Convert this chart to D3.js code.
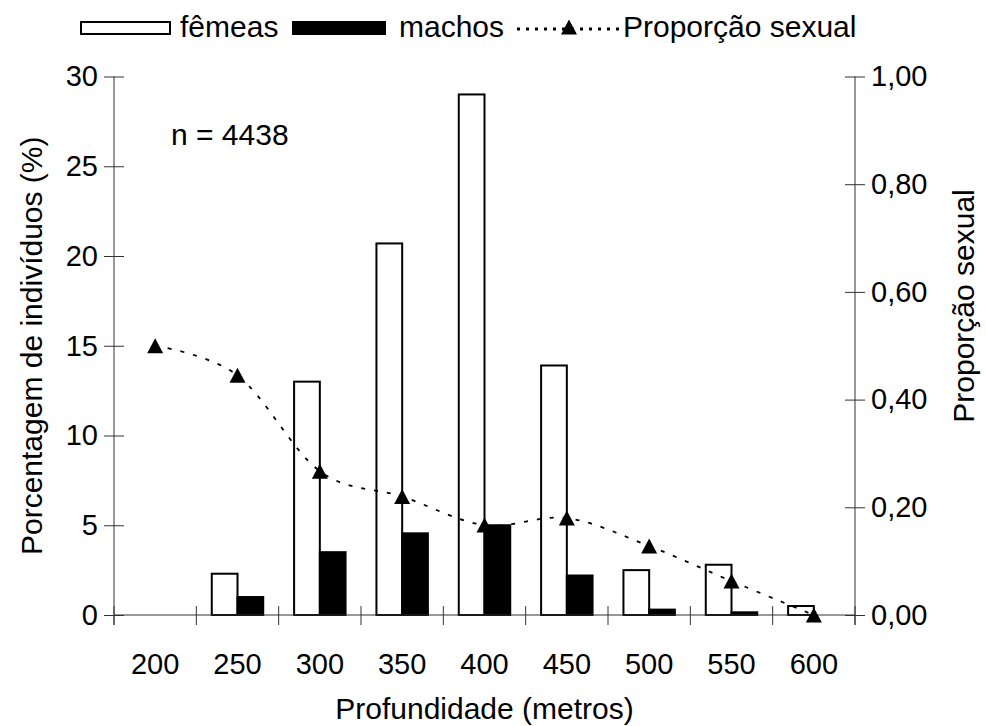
<!DOCTYPE html>
<html>
<head>
<meta charset="utf-8">
<script src="https://cdn.jsdelivr.net/npm/d3@7"></script>
<style>
  html, body { margin: 0; padding: 0; background: #fff; }
  svg { display: block; font-family: "Liberation Sans", Arial, sans-serif; }
</style>
</head>
<body>
<svg id="chart" width="986" height="726"></svg>
<script>
// Depth classes (m)
const depths = ["200", "250", "300", "350", "400", "450", "500", "550", "600"];
// Percentage of individuals per depth class
const femeas = [0, 2.3, 13.0, 20.7, 29.0, 13.9, 2.5, 2.8, 0.5];
const machos = [0, 1.0, 3.5, 4.55, 5.0, 2.2, 0.3, 0.15, 0];
// Sex ratio per depth class
const proporcao = [0.50, 0.445, 0.267, 0.22, 0.167, 0.18, 0.128, 0.063, 0.0];

const leftTicks = [0, 5, 10, 15, 20, 25, 30];
const rightTicks = [0, 0.2, 0.4, 0.6, 0.8, 1.0];
const seriesNames = ["fêmeas", "machos"];

const svg = d3.select("#chart");
const FS = 30;      // text size for titles, legend, note
const FS_TICK = 29; // text size for tick labels
const plot = { left: 114, right: 855, top: 76.5, bottom: 615 };

const x = d3.scaleBand().domain(depths).range([plot.left, plot.right]).padding(0);
const xSub = d3.scaleBand().domain(seriesNames).range([0, x.bandwidth()])
  .paddingInner(0).paddingOuter(0.6);
const y = d3.scaleLinear().domain([0, 30]).range([plot.bottom, plot.top]);
const y2 = d3.scaleLinear().domain([0, 1]).range([plot.bottom, plot.top]);

const axisColor = "#333";

// Bars
const rows = depths.map((d, i) => ({ depth: d, "fêmeas": femeas[i], "machos": machos[i] }));
const groups = svg.append("g").selectAll("g").data(rows).join("g")
  .attr("transform", d => `translate(${x(d.depth)},0)`);
groups.selectAll("rect")
  .data(d => seriesNames.map(k => ({ key: k, value: d[k] })).filter(v => v.value > 0))
  .join("rect")
  .attr("x", d => xSub(d.key))
  .attr("y", d => y(d.value))
  .attr("width", xSub.bandwidth())
  .attr("height", d => y(0) - y(d.value))
  .attr("fill", d => d.key === "fêmeas" ? "#fff" : "#000")
  .attr("stroke", "#000")
  .attr("stroke-width", 2);

// Left axis
const gL = svg.append("g").attr("transform", `translate(${plot.left},0)`)
  .call(d3.axisLeft(y).tickValues(leftTicks).tickSize(10).tickFormat(d3.format("d")));
gL.selectAll(".tick line").attr("x1", -10).attr("x2", 10);
gL.selectAll("text").attr("x", -16).style("font-size", FS_TICK + "px").attr("fill", "#000").attr("font-family", null);
gL.select(".domain").attr("d", `M0,${plot.top}V${plot.bottom + 10}`);
gL.selectAll("path, line").attr("stroke", axisColor);

// Right axis
const gR = svg.append("g").attr("transform", `translate(${plot.right},0)`)
  .call(d3.axisRight(y2).tickValues(rightTicks).tickSize(10)
    .tickFormat(d => d.toFixed(2).replace(".", ",")));
gR.selectAll(".tick line").attr("x1", -10).attr("x2", 10);
gR.selectAll("text").attr("x", 16).style("font-size", FS_TICK + "px").attr("fill", "#000").attr("font-family", null);
gR.select(".domain").attr("d", `M0,${plot.top}V${plot.bottom + 10}`);
gR.selectAll("path, line").attr("stroke", axisColor);

// Bottom axis: labels at class centres, ticks at class boundaries
const gB = svg.append("g").attr("transform", `translate(0,${plot.bottom})`)
  .call(d3.axisBottom(x).tickSize(0));
gB.select(".domain").attr("d", `M${plot.left},0H${plot.right}`).attr("stroke", axisColor);
gB.selectAll("text").attr("y", 59).attr("dy", null)
  .style("font-size", FS_TICK + "px").attr("fill", "#000").attr("font-family", null);
const bounds = depths.map(d => x(d)).concat([plot.right]);
gB.selectAll(".bound").data(bounds).join("line").attr("class", "bound")
  .attr("x1", d => d).attr("x2", d => d).attr("y1", -9).attr("y2", 10)
  .attr("stroke", axisColor);

// Sex-ratio line (smoothed, dotted) with triangle markers
const pts = depths.map((d, i) => ({ depth: d, v: proporcao[i] }));
const cx = d => x(d.depth) + x.bandwidth() / 2;
const line = d3.line().x(cx).y(d => y2(d.v)).curve(d3.curveCardinal.tension(0));
svg.append("path").datum(pts).attr("d", line)
  .attr("fill", "none").attr("stroke", "#000").attr("stroke-width", 1.8)
  .attr("stroke-dasharray", "4,9");
const tri = "M0,-7.5L8,7.5L-8,7.5Z";
svg.append("g").selectAll("path").data(pts).join("path")
  .attr("d", tri)
  .attr("transform", d => `translate(${cx(d)},${y2(d.v)})`)
  .attr("fill", "#000");

// Annotation
svg.append("text").attr("x", 171).attr("y", 145).style("font-size", FS + "px").text("n = 4438");

// Axis titles
svg.append("text").attr("x", (plot.left + plot.right) / 2).attr("y", 719)
  .attr("text-anchor", "middle").style("font-size", FS + "px").text("Profundidade (metros)");
svg.append("text").attr("transform", `translate(42,${(plot.top + plot.bottom) / 2}) rotate(-90)`)
  .attr("text-anchor", "middle").style("font-size", FS + "px").text("Porcentagem de indivíduos (%)");
svg.append("text").attr("transform", `translate(974,306) rotate(-90)`)
  .attr("text-anchor", "middle").style("font-size", FS + "px").text("Proporção sexual");

// Legend
const lg = svg.append("g");
lg.append("rect").attr("x", 81).attr("y", 22).attr("width", 89).attr("height", 12)
  .attr("fill", "#fff").attr("stroke", "#000").attr("stroke-width", 2);
lg.append("text").attr("x", 180).attr("y", 37).style("font-size", FS + "px").text(seriesNames[0]);
lg.append("rect").attr("x", 293).attr("y", 22).attr("width", 92).attr("height", 12)
  .attr("fill", "#000").attr("stroke", "#000").attr("stroke-width", 2);
lg.append("text").attr("x", 399).attr("y", 37).style("font-size", FS + "px").text(seriesNames[1]);
lg.append("line").attr("x1", 517).attr("x2", 620).attr("y1", 29).attr("y2", 29)
  .attr("stroke", "#000").attr("stroke-width", 3).attr("stroke-dasharray", "3,6");
lg.append("path").attr("d", tri).attr("transform", "translate(569,27)").attr("fill", "#000");
lg.append("text").attr("x", 623).attr("y", 37).style("font-size", FS + "px").text("Proporção sexual");
</script>
</body>
</html>
